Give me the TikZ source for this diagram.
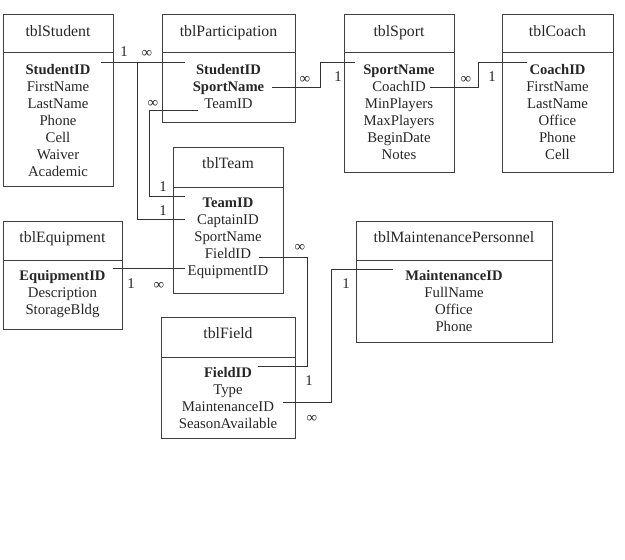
\documentclass[tikz,border=0pt]{standalone}
\usepackage{fontspec}
\setmainfont{Liberation Serif}

\begin{document}
\begin{tikzpicture}[x=1pt, y=-1pt,
    box/.style={draw=black!75, line width=0.9pt},
    title/.style={anchor=base, inner sep=0pt, text=black!85, font=\fontsize{15.8}{17}\selectfont},
    row/.style={anchor=base, inner sep=0pt, text=black!85, font=\fontsize{14.8}{17}\selectfont},
    key/.style={row, font=\fontsize{14.6}{17}\selectfont\bfseries},
    link/.style={draw=black!80, line width=0.8pt},
    card/.style={inner sep=0pt, text=black!85, font=\fontsize{14.8}{17}\selectfont}]

    \useasboundingbox (0,0) rectangle (625,560);

    % --- 1. tables: frame, title bar, rows ---
    % tblStudent
    \draw[box] (3,14) rectangle (113,186);
    \draw[box] (3,52) -- (113,52);
    \node[title] (stTitle) at (58,36) {tblStudent};
    \node[key] (stStudentID) at (58,74) {StudentID};
    \foreach \f [count=\i] in {FirstName,LastName,Phone,Cell,Waiver,Academic}
        \node[row] (st\f) at (58,74+17*\i) {\f};

    % tblParticipation
    \draw[box] (162,14) rectangle (295,122);
    \draw[box] (162,52) -- (295,52);
    \node[title] (paTitle) at (228.5,36) {tblParticipation};
    \node[key] (paStudentID) at (228.5,74) {StudentID};
    \node[key] (paSportName) at (228.5,91) {SportName};
    \node[row] (paTeamID) at (228.5,108) {TeamID};

    % tblSport
    \draw[box] (344,14) rectangle (454,172);
    \draw[box] (344,52) -- (454,52);
    \node[title] (spTitle) at (399,36) {tblSport};
    \node[key] (spSportName) at (399,74) {SportName};
    \foreach \f [count=\i] in {CoachID,MinPlayers,MaxPlayers,BeginDate,Notes}
        \node[row] (sp\f) at (399,74+17*\i) {\f};

    % tblCoach
    \draw[box] (502,14) rectangle (613,172);
    \draw[box] (502,52) -- (613,52);
    \node[title] (coTitle) at (557.5,36) {tblCoach};
    \node[key] (coCoachID) at (557.5,74) {CoachID};
    \foreach \f [count=\i] in {FirstName,LastName,Office,Phone,Cell}
        \node[row] (co\f) at (557.5,74+17*\i) {\f};

    % tblTeam
    \draw[box] (173,147) rectangle (283,293);
    \draw[box] (173,187) -- (283,187);
    \node[title] (tmTitle) at (228,168) {tblTeam};
    \node[key] (tmTeamID) at (228,207) {TeamID};
    \foreach \f [count=\i] in {CaptainID,SportName,FieldID,EquipmentID}
        \node[row] (tm\f) at (228,207+17*\i) {\f};

    % tblEquipment
    \draw[box] (3,221) rectangle (122,329);
    \draw[box] (3,260) -- (122,260);
    \node[title] (eqTitle) at (62.5,242) {tblEquipment};
    \node[key] (eqEquipmentID) at (62.5,280) {EquipmentID};
    \foreach \f [count=\i] in {Description,StorageBldg}
        \node[row] (eq\f) at (62.5,280+17*\i) {\f};

    % tblMaintenancePersonnel
    \draw[box] (356,221) rectangle (552,342);
    \draw[box] (356,260) -- (552,260);
    \node[title] (mpTitle) at (454,242) {tblMaintenancePersonnel};
    \node[key] (mpMaintenanceID) at (454,280) {MaintenanceID};
    \foreach \f [count=\i] in {FullName,Office,Phone}
        \node[row] (mp\f) at (454,280+17*\i) {\f};

    % tblField
    \draw[box] (161,317) rectangle (295,438);
    \draw[box] (161,357) -- (295,357);
    \node[title] (fiTitle) at (228,338) {tblField};
    \node[key] (fiFieldID) at (228,377) {FieldID};
    \foreach \f [count=\i] in {Type,MaintenanceID,SeasonAvailable}
        \node[row] (fi\f) at (228,377+17*\i) {\f};

    % --- 2. relationships ---
    \draw[link] ([shift={(10pt,12pt)}]stStudentID.base east) -- ([shift={(-11pt,12pt)}]paStudentID.base west);
    \draw[link] ([shift={(47pt,12pt)}]stStudentID.base east) |- ([shift={(-12pt,5pt)}]tmCaptainID.base west);
    \draw[link] ([shift={(-6pt,-2pt)}]paTeamID.base west) -- ++(-49,0) |- ([shift={(-18pt,11pt)}]tmTeamID.base west);
    \draw[link] ([shift={(8pt,4pt)}]paSportName.base east) -- ++(48,0) |- ([shift={(-8pt,12pt)}]spSportName.base west);
    \draw[link] ([shift={(4pt,4pt)}]spCoachID.base east) -- ++(48,0) |- ([shift={(-2pt,12pt)}]coCoachID.base west);
    \draw[link] ([shift={(7pt,12pt)}]eqEquipmentID.base east) -- ([shift={(-3pt,7pt)}]tmEquipmentID.base west);
    \draw[link] ([shift={(8pt,1pt)}]tmFieldID.base east) -- ++(48,0) |- ([shift={(6pt,11pt)}]fiFieldID.base east);
    \draw[link] ([shift={(9pt,9pt)}]fiMaintenanceID.base east) -- ++(48,0) |- ([shift={(-12pt,11pt)}]mpMaintenanceID.base west);

    % --- 3. cardinalities ---
    \node[card] (stOne)    at (124,52)  {1};
    \node[card] (paMany)   at (147,54)  {∞};
    \node[card] (paTMany)  at (153,104) {∞};
    \node[card] (tmOne)    at (163,187) {1};
    \node[card] (tmCOne)   at (163,211) {1};
    \node[card] (spMany)   at (305,80)  {∞};
    \node[card] (spOne)    at (338,77)  {1};
    \node[card] (coMany)   at (466,80)  {∞};
    \node[card] (coOne)    at (492,77)  {1};
    \node[card] (eqOne)    at (131,284) {1};
    \node[card] (eqMany)   at (159,286) {∞};
    \node[card] (fiMany)   at (300,248) {∞};
    \node[card] (fiOne)    at (309,381) {1};
    \node[card] (mpOne)    at (346,284) {1};
    \node[card] (mpMany)   at (312,419) {∞};

\end{tikzpicture}
\end{document}
